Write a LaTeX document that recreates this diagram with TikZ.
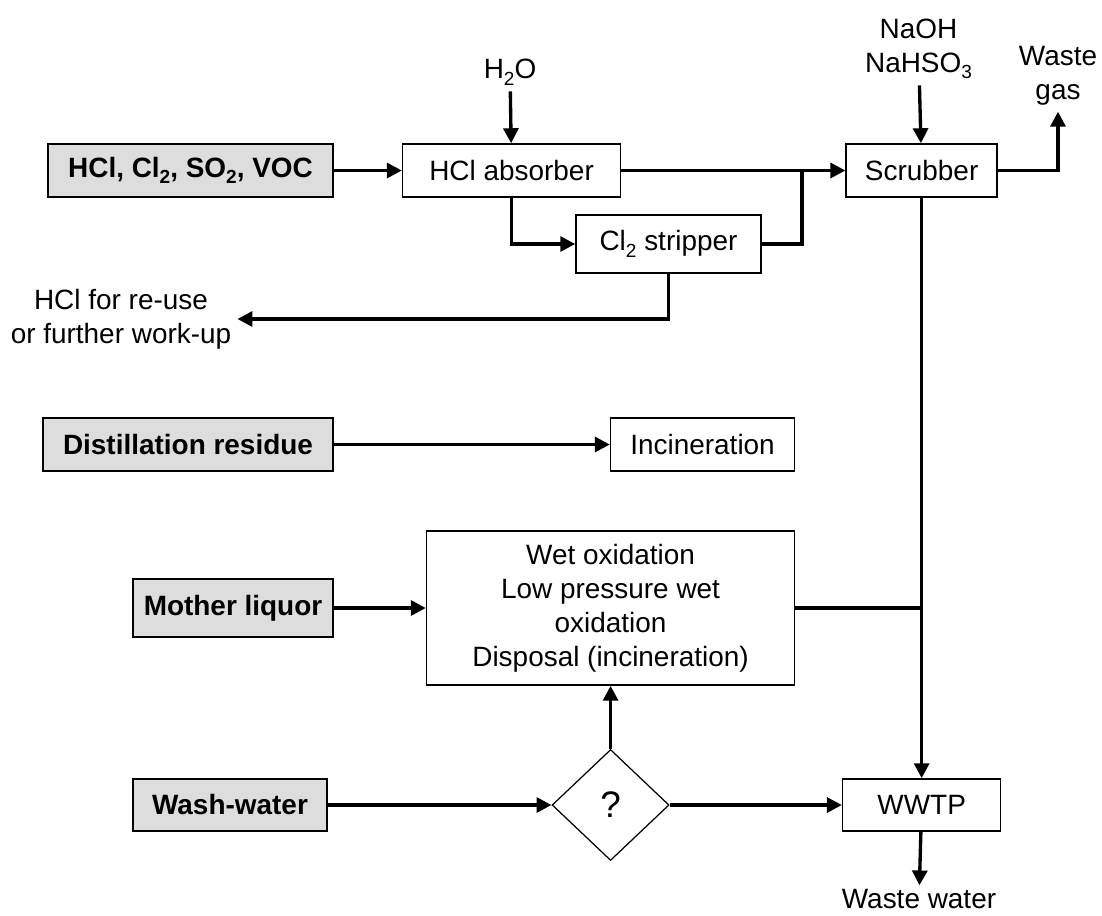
\documentclass[tikz,border=0pt]{standalone}
\usepackage{fontspec}
\setmainfont{Liberation Sans}
\usetikzlibrary{shapes.geometric,arrows.meta,positioning,calc}
\usepackage{xcolor}
\definecolor{feedgray}{RGB}{221,221,221}
\newcommand{\flowfont}{\fontsize{15.9pt}{19.3pt}\selectfont}
\newcommand{\chemsub}[1]{\raisebox{-0.45ex}{\scalebox{0.68}{#1}}}

\begin{document}
\begin{tikzpicture}[
    node distance=1cm,
    feed/.style={rectangle, draw, line width=0.9pt, fill=feedgray,
                 minimum height=1.06cm, font=\flowfont\bfseries},
    unit/.style={rectangle, draw, line width=0.9pt, fill=white,
                 minimum height=1.06cm, font=\flowfont},
    decision/.style={diamond, draw, line width=0.7pt, minimum width=2.34cm,
                 minimum height=2.22cm, inner sep=0pt, font=\fontsize{21pt}{24pt}\selectfont},
    stream/.style={font=\flowfont, align=center},
    arrow/.style={->, line width=1.9pt, >={Triangle[length=8.5pt,width=8.5pt]}},
    pipe/.style={line width=1.9pt}
]
\useasboundingbox (0,0) rectangle (22.04,-18.32);

% Off-gas line
\node[feed, minimum width=5.7cm] (gas) at (3.81,-3.41)
     {HCl, Cl\chemsub{2}, SO\chemsub{2}, VOC};
\node[unit, minimum width=4.36cm, right=1.36cm of gas] (absorber) {HCl absorber};
\node[unit, minimum width=3.02cm, right=4.48cm of absorber] (scrubber) {Scrubber};
\node[unit, minimum width=3.7cm, minimum height=1.16cm] (stripper) at (13.37,-4.88)
     {Cl\chemsub{2} stripper};

% Feeds and products of the off-gas line
\node[stream] (water) at (10.2,-1.44) {H\chemsub{2}O};
\node[stream] (caustic) at (18.37,-0.98) {NaOH\\NaHSO\chemsub{3}};
\node[stream] (wastegas) at (21.16,-1.52) {Waste\\gas};
\node[stream] (reuse) at (2.42,-6.38) {HCl for re-use\\or further work-up};
\coordinate (join) at (16.04,-3.41);

% Residue and liquid streams
\node[feed, minimum width=5.8cm] (residue) at (3.76,-8.89) {Distillation residue};
\node[unit, minimum width=3.68cm, right=5.52cm of residue] (incin) {Incineration};
\node[feed, minimum width=4.0cm, minimum height=1.16cm] (mother) at (4.66,-12.16) {Mother liquor};
\node[unit, minimum width=7.36cm, minimum height=3.08cm, align=center,
      right=1.84cm of mother] (oxid)
     {Wet oxidation\\Low pressure wet\\oxidation\\Disposal (incineration)};
\node[feed, minimum width=3.88cm, minimum height=1.04cm] (wash) at (4.6,-16.1) {Wash-water};
\node[decision] (decide) at (oxid |- wash) {?};
\node[unit, minimum width=3.16cm, minimum height=1.04cm] (wwtp) at (scrubber |- wash) {WWTP};
\node[stream, inner sep=2pt] (wastewater) at (18.38,-17.98) {Waste water};

% Arrows
\draw[arrow] (gas) -- (absorber);
\draw[arrow] (water) -- (absorber);
\draw[arrow] (absorber) -- (scrubber);
\draw[arrow] (absorber.south) |- (stripper.west);
\draw[pipe] (stripper.east) -| (join);
\draw[arrow] (stripper.south) |- (reuse.east);
\draw[arrow] (caustic) -- (scrubber);
\draw[arrow] (scrubber.east) -| (wastegas.south);
\draw[arrow] (scrubber) -- (wwtp);

\draw[arrow] (residue) -- (incin);
\draw[arrow] (mother) -- (oxid);
\draw[pipe] (oxid.east) -- (oxid.east -| scrubber.south);
\draw[arrow] (wash) -- (decide);
\draw[arrow] (decide) -- (oxid);
\draw[arrow] (decide) -- (wwtp);
\draw[arrow] (wwtp) -- (wastewater);

\end{tikzpicture}
\end{document}
